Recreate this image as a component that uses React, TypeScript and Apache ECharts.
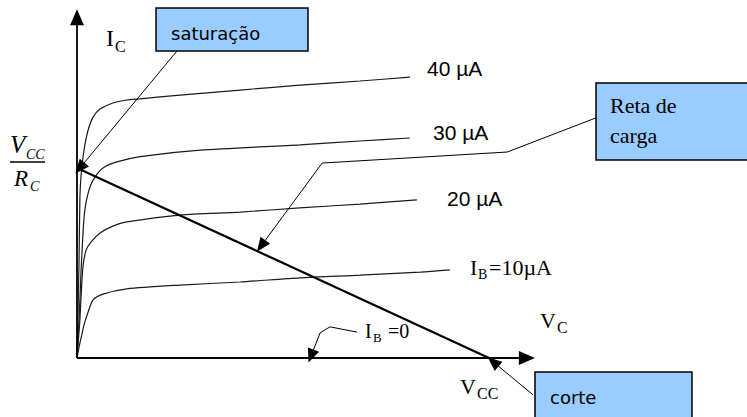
import React, { useEffect, useRef } from "react";
import * as echarts from "echarts";

// Collector characteristic curves (x: V_CE in V, Vcc = 10 V; y: I_C in mA, Vcc/Rc = 5 mA)
const ib40: number[][] = [
  [0, 0], [0.02, 1.0], [0.05, 2.58], [0.07, 4.21], [0.1, 4.82], [0.17, 5.47], [0.27, 6.0],
  [0.39, 6.34], [0.56, 6.55], [0.87, 6.71], [1.21, 6.79], [1.53, 6.82], [2.5, 6.92],
  [3.96, 7.05], [5.41, 7.18], [6.87, 7.29], [8.08, 7.39],
];
const ib30: number[][] = [
  [0, 0], [0.05, 1.0], [0.1, 2.32], [0.15, 3.37], [0.19, 3.89], [0.27, 4.34], [0.39, 4.68],
  [0.63, 5.0], [0.97, 5.16], [1.53, 5.3], [2.99, 5.47], [5.41, 5.61], [6.87, 5.71], [8.08, 5.79],
];
const ib20: number[][] = [
  [0, 0], [0.07, 1.0], [0.12, 2.05], [0.15, 2.45], [0.22, 2.84], [0.34, 3.05], [0.56, 3.29],
  [0.87, 3.47], [1.21, 3.58], [2.5, 3.76], [3.96, 3.84], [5.41, 3.95], [6.87, 4.05], [8.25, 4.16],
];
const ib10: number[][] = [
  [0, 0], [0.05, 0.29], [0.1, 0.53], [0.17, 0.87], [0.27, 1.21], [0.39, 1.53], [0.63, 1.68],
  [1.21, 1.82], [2.5, 1.92], [3.96, 2.0], [5.41, 2.11], [6.87, 2.18], [8.33, 2.26], [9.05, 2.32],
];
const ib0: number[][] = [[0, 0], [10, 0]];
const loadLine: number[][] = [[0, 5], [10, 0]];

const axisArrows: number[][][] = [
  [[0, 0], [0, 8.97]],
  [[0, 0], [10.92, 0]],
];
const pointerSegments: number[][][] = [
  [[12.6, 6.32], [10.44, 5.42]],
  [[10.44, 5.42], [5.95, 5.13]],
  [[6.8, 0.68], [6.14, 0.82]],
  [[6.14, 0.82], [5.9, 0.66]],
];
const pointerArrows: number[][][] = [
  [[2.45, 8.11], [0.07, 5.0]],
  [[5.95, 5.13], [4.47, 2.95]],
  [[11.07, -0.97], [10.1, -0.1]],
  [[5.9, 0.66], [5.68, 0.05]],
];

const SERIF = '"Liberation Serif", "Times New Roman", serif';
const SANS = '"Liberation Sans", Arial, sans-serif';
const DJ = '"DejaVu Sans", sans-serif';

function txt(text: string, x: number, y: number, font: string) {
  return {
    type: "text",
    x,
    y,
    z: 20,
    silent: true,
    style: { text, font, fill: "#000", textVerticalAlign: "middle", verticalAlign: "middle" },
  };
}
function box(x: number, y: number, w: number, h: number) {
  return {
    type: "rect",
    z: 10,
    silent: true,
    shape: { x, y, width: w, height: h },
    style: { fill: "#99ccff", stroke: "#000", lineWidth: 1.5 },
  };
}

const curveColor = "#1a1a1a";
function curve(name: string, data: number[][]) {
  return {
    type: "line",
    name,
    data,
    smooth: 0.25,
    showSymbol: false,
    symbol: "none",
    clip: false,
    lineStyle: { color: curveColor, width: 1.2 },
    z: 3,
  };
}

export default function App() {
  const ref = useRef<HTMLDivElement>(null);
  useEffect(() => {
    const chart = echarts.init(ref.current!, null, { renderer: "svg" });
    chart.setOption({
      animation: false,
      backgroundColor: "#fff",
      grid: { left: 77, top: 0.8, width: 659.2, height: 414.2 },
      xAxis: { type: "value", min: 0, max: 16, show: false },
      yAxis: { type: "value", min: -1.5, max: 9.4, show: false },
      series: [
        curve("40 µA", ib40),
        curve("30 µA", ib30),
        curve("20 µA", ib20),
        curve("10 µA", ib10),
        curve("0", ib0),
        {
          type: "line",
          name: "reta de carga",
          data: loadLine,
          showSymbol: false,
          symbol: "none",
          clip: false,
          lineStyle: { color: "#000", width: 2.2 },
          z: 4,
        },
        {
          type: "lines",
          coordinateSystem: "cartesian2d",
          silent: true,
          clip: false,
          symbol: ["none", "triangle"],
          symbolSize: [[1, 1], [14, 16]],
          lineStyle: { color: "#000", width: 1.8, opacity: 1 },
          data: axisArrows.map((c) => ({ coords: c })),
          z: 5,
        },
        {
          type: "lines",
          coordinateSystem: "cartesian2d",
          silent: true,
          clip: false,
          symbol: ["none", "none"],
          lineStyle: { color: "#000", width: 1, opacity: 1 },
          data: pointerSegments.map((c) => ({ coords: c })),
          z: 6,
        },
        {
          type: "lines",
          coordinateSystem: "cartesian2d",
          silent: true,
          clip: false,
          symbol: ["none", "triangle"],
          symbolSize: [[1, 1], [12, 14]],
          lineStyle: { color: "#000", width: 1, opacity: 1 },
          data: pointerArrows.map((c) => ({ coords: c })),
          z: 6,
        },
      ],
      graphic: [
        box(156, 8, 152, 43),
        box(596, 83, 160, 77),
        box(535, 372, 157, 60),
        txt("saturação", 171, 33, `18px ${DJ}`),
        txt("Reta de", 610, 105, `22px ${SERIF}`),
        txt("carga", 610, 135, `22px ${SERIF}`),
        txt("corte", 550, 397, `18px ${DJ}`),
        // I_C
        txt("I", 106, 38, `24px ${SERIF}`),
        txt("C", 115, 46, `16px ${SERIF}`),
        // Vcc / Rc
        txt("V", 10, 144, `italic 25px ${SERIF}`),
        txt("CC", 26, 154, `italic 14px ${SERIF}`),
        {
          type: "line",
          z: 20,
          silent: true,
          shape: { x1: 10, y1: 162, x2: 45, y2: 162 },
          style: { stroke: "#000", lineWidth: 1.5 },
        },
        txt("R", 14, 178, `italic 23px ${SERIF}`),
        txt("C", 30, 186, `italic 14px ${SERIF}`),
        // curve labels
        txt("40 µA", 427, 68, `21px ${SANS}`),
        txt("30 µA", 433, 132, `21px ${SANS}`),
        txt("20 µA", 447, 198, `21px ${SANS}`),
        txt("I", 470, 267, `22px ${SERIF}`),
        txt("B", 478, 274, `14px ${SERIF}`),
        txt("=10µA", 489, 267, `22px ${SERIF}`),
        txt("I", 365, 331, `20px ${SERIF}`),
        txt("B", 373, 337, `13px ${SERIF}`),
        txt("=0", 388, 331, `20px ${SERIF}`),
        // axis labels
        txt("V", 540, 320, `22px ${SERIF}`),
        txt("C", 557, 327, `16px ${SERIF}`),
        txt("V", 460, 386, `22px ${SERIF}`),
        txt("CC", 477, 393, `16px ${SERIF}`),
      ],
    });
    return () => chart.dispose();
  }, []);
  return (
    <div
      ref={ref}
      style={{ position: "fixed", left: 0, top: 0, width: 747, height: 417, background: "#fff" }}
    />
  );
}
